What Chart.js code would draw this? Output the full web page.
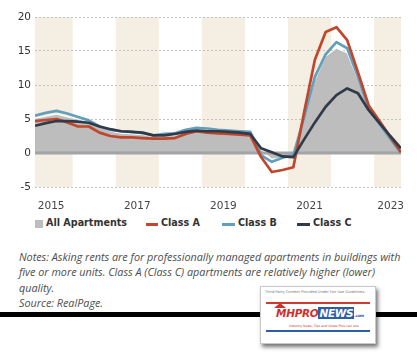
<!DOCTYPE html>
<html>
<head>
<meta charset="utf-8">
<script src="https://cdn.jsdelivr.net/npm/chart.js@4"></script>
<style>
  html, body { margin: 0; padding: 0; background: #fff; }
  #wrap { position: relative; width: 417px; height: 354px; overflow: hidden; }
  #chart { position: absolute; left: 0; top: 0; }
  .leg { position: absolute; top: 217px; font: bold 9.6px "DejaVu Sans", sans-serif; color: #333; white-space: nowrap; }
  .leg i { position: absolute; display: block; }
  .notes { position: absolute; left: 19px; top: 249px; font: italic 10.8px "Open Sans", sans-serif; line-height: 15.3px; color: #4d4d4d; white-space: nowrap; }
  .rule { position: absolute; left: 0; top: 312px; width: 417px; height: 5px; background: #000; }
  .logo { position: absolute; left: 260px; top: 286px; width: 114px; height: 56px; background: #fff; border: 1px solid #c8c8c8;
          box-shadow: 2px 3px 4px rgba(0,0,0,0.55); font-family: "DejaVu Sans", sans-serif; }
  .logo .top { position: absolute; left: 4px; top: 3px; font-size: 3.6px; color: #777; white-space: nowrap; }
  .logo .ln { position: absolute; left: 5px; width: 104px; height: 1.5px; }
  .logo .brand { position: absolute; left: 15px; top: 20px; font: bold italic 10.5px "DejaVu Sans", sans-serif; color: #d0302a; white-space: nowrap; letter-spacing: -0.3px; }
  .logo .brand b { background: #2c5ea8; color: #fff; padding: 0 1px; }
  .logo .brand small { font-size: 4px; color: #2c5ea8; }
  .logo .tag { position: absolute; left: 28px; top: 37px; font-size: 3.2px; color: #c0392b; white-space: nowrap; }
  .logo .house { position: absolute; left: 13px; top: 16px; width: 0; height: 0; border-left: 6px solid transparent; border-right: 6px solid transparent; border-bottom: 5px solid #d0302a; }
</style>
</head>
<body>
<div id="wrap">
  <canvas id="chart" width="417" height="210"></canvas>

  <div class="leg" style="left:35px"><i style="left:0;top:3px;width:8px;height:8px;background:#bdbdbd"></i><span style="margin-left:11px">All Apartments</span></div>
  <div class="leg" style="left:146px"><i style="left:0;top:6px;width:12px;height:3px;background:#c0462c"></i><span style="margin-left:15px">Class A</span></div>
  <div class="leg" style="left:222px"><i style="left:0;top:6px;width:13px;height:3px;background:#639fbb"></i><span style="margin-left:16px">Class B</span></div>
  <div class="leg" style="left:297px"><i style="left:0;top:6px;width:13px;height:3px;background:#303a48"></i><span style="margin-left:16px">Class C</span></div>

  <div class="notes">Notes: Asking rents are for professionally managed apartments in buildings with<br>five or more units. Class A (Class C) apartments are relatively higher (lower)<br>quality.<br>Source: RealPage.</div>

  <div class="rule"></div>
  <div class="logo">
    <div class="top">Third Party Content Provided Under Fair Use Guidelines.</div>
    <div class="ln" style="top:15px;background:#d33a2f"></div>
    <div class="house"></div>
    <div class="brand">MHPRO<b>NEWS</b><small>.com</small></div>
    <div class="tag">Industry News, Tips and Views Pros can Use</div>
    <div class="ln" style="top:43px;background:#2c5ea8"></div>
  </div>
</div>

<script>
  // rent growth, % change from a year earlier, quarterly
  const quarters = [
    "2015Q1","2015Q2","2015Q3","2015Q4","2016Q1","2016Q2","2016Q3","2016Q4",
    "2017Q1","2017Q2","2017Q3","2017Q4","2018Q1","2018Q2","2018Q3","2018Q4",
    "2019Q1","2019Q2","2019Q3","2019Q4","2020Q1","2020Q2","2020Q3","2020Q4",
    "2021Q1","2021Q2","2021Q3","2021Q4","2022Q1","2022Q2","2022Q3","2022Q4",
    "2023Q1","2023Q2","2023Q3"
  ];
  const allApts = [5.1, 5.4, 5.7, 5.3, 5.0, 4.6, 3.8, 3.2, 2.9, 2.8, 2.7, 2.4, 2.5, 2.6, 3.0, 3.4,
                   3.3, 3.2, 3.1, 3.0, 3.1, 0.5, -0.9, -0.7, -0.3, 4.8, 10.7, 14.2, 15.4, 14.7, 10.8, 6.3,
                   4.2, 2.1, 0.1];
  const classA  = [4.7, 4.85, 5.0, 4.5, 3.9, 3.9, 3.0, 2.5, 2.3, 2.3, 2.2, 2.1, 2.1, 2.2, 2.8, 3.2,
                   3.0, 2.9, 2.8, 2.7, 2.6, -0.6, -2.8, -2.5, -2.1, 6.0, 13.7, 17.8, 18.5, 16.6, 11.9, 7.0,
                   4.7, 2.4, 0.1];
  const classB  = [5.5, 5.9, 6.2, 5.8, 5.3, 4.8, 3.9, 3.4, 3.2, 3.1, 2.9, 2.6, 2.8, 2.9, 3.4, 3.7,
                   3.6, 3.4, 3.3, 3.2, 3.1, -0.3, -1.3, -0.7, -0.3, 5.2, 11.2, 14.5, 16.3, 15.4, 11.2, 6.5,
                   4.3, 2.1, 0.0];
  const classC  = [4.0, 4.4, 4.7, 4.7, 4.6, 4.45, 3.9, 3.5, 3.2, 3.1, 3.0, 2.6, 2.6, 2.8, 3.1, 3.3,
                   3.2, 3.2, 3.1, 3.0, 2.8, 0.7, 0.1, -0.5, -0.6, 2.0, 4.5, 6.8, 8.5, 9.5, 8.8, 6.3,
                   4.4, 2.5, 0.7];
  const shadedYears = [2015, 2017, 2019, 2021, 2023];
  const yTickStep = 5;
  const xMin = 2015, xMax = 2023.5;

  const toYear = q => Number(q.slice(0, 4)) + (Number(q.slice(5)) - 1) / 4;
  const pts = (vals) => vals.map((v, i) => ({ x: toYear(quarters[i]), y: v }));

  // beige bands behind every other year (year starts half a quarter before Q1)
  const bands = {
    id: "bands",
    beforeDraw(chart) {
      const { ctx, chartArea: a, scales: { x } } = chart;
      ctx.save();
      ctx.fillStyle = "#f5eee2";
      shadedYears.forEach(yr => {
        const l = Math.max(a.left, x.getPixelForValue(yr - 0.125));
        const r = Math.min(a.right, x.getPixelForValue(yr + 0.875));
        if (r > l) ctx.fillRect(l, a.top, r - l, a.bottom - a.top);
      });
      ctx.restore();
    }
  };

  // thick zero line, over the area but under the class lines
  const zeroLine = {
    id: "zeroLine",
    afterDatasetDraw(chart, args) {
      if (args.index !== 0) return;
      const { ctx, chartArea: a, scales: { y } } = chart;
      const py = Math.round(y.getPixelForValue(0));
      ctx.save();
      ctx.strokeStyle = "#a2a4a8";
      ctx.lineWidth = 3;
      ctx.beginPath();
      ctx.moveTo(a.left, py);
      ctx.lineTo(a.right, py);
      ctx.stroke();
      ctx.restore();
    }
  };

  const lineDs = (label, vals, color, order) => ({
    label, data: pts(vals), borderColor: color, borderWidth: 2.7,
    pointRadius: 0, tension: 0, fill: false, order, borderJoinStyle: "round"
  });

  new Chart(document.getElementById("chart"), {
    type: "line",
    data: {
      datasets: [
        { label: "All Apartments", data: pts(allApts), borderColor: "#ffffff", borderWidth: 1,
          backgroundColor: "#bdbdbd", fill: "origin", pointRadius: 0, tension: 0, order: 4 },
        lineDs("Class A", classA, "#c0462c", 2),
        lineDs("Class B", classB, "#639fbb", 3),
        lineDs("Class C", classC, "#303a48", 1)
      ]
    },
    options: {
      responsive: false,
      animation: false,
      layout: { padding: { top: 17, right: 16, left: 0, bottom: 0 } },
      plugins: { legend: { display: false }, tooltip: { enabled: false } },
      scales: {
        x: {
          type: "linear", min: xMin, max: xMax,
          grid: { display: false },
          border: { display: false },
          afterBuildTicks(s) {
            s.ticks = shadedYears.map(yr => ({ value: Math.min(yr + 0.375, xMax - 0.24) }));
          },
          afterFit(s) { s.height = 23; },
          ticks: {
            autoSkip: false, maxRotation: 0, padding: 5, color: "#444",
            font: { family: "DejaVu Sans", size: 10.5 },
            callback: v => String(Math.floor(v))
          }
        },
        y: {
          min: -5, max: 20,
          afterFit(s) { s.width = 35; },
          grid: { color: "#c2c2c2", lineWidth: 1, drawTicks: false },
          border: { display: false, dash: [2, 2] },
          ticks: {
            stepSize: yTickStep, padding: 4, color: "#333",
            font: { family: "DejaVu Sans", size: 10.5 }
          }
        }
      }
    },
    plugins: [bands, zeroLine]
  });
</script>
</body>
</html>
